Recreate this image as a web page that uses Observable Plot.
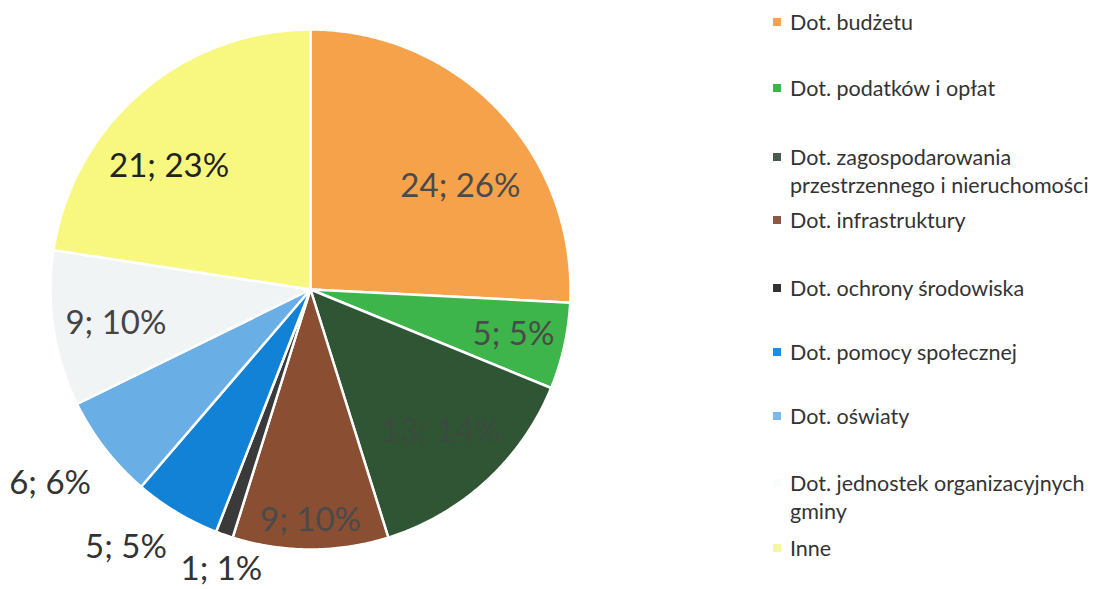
<!DOCTYPE html>
<html><head><meta charset="utf-8">
<script src="https://cdn.jsdelivr.net/npm/d3@7"></script>
<script src="https://cdn.jsdelivr.net/npm/@observablehq/plot@0.6"></script>
<style>
body{margin:0;background:#fff;font-family:Lato,"Open Sans",sans-serif;}
#wrap{position:relative;width:1100px;height:589px;overflow:hidden;}
#legend{position:absolute;left:0;top:0;width:1100px;height:589px;pointer-events:none;}
.item{position:absolute;left:790px;font-size:21.5px;line-height:28px;color:#333;white-space:nowrap;}
.sw{position:absolute;left:-17px;top:10px;width:8px;height:8px;}
</style></head><body><div id="wrap"><div id="legend"></div></div>
<script>
const categories = [
  "Dot. budżetu",
  "Dot. podatków i opłat",
  "Dot. zagospodarowania przestrzennego i nieruchomości",
  "Dot. infrastruktury",
  "Dot. ochrony środowiska",
  "Dot. pomocy społecznej",
  "Dot. oświaty",
  "Dot. jednostek organizacyjnych gminy",
  "Inne"
];
const legendLines = [
  ["Dot. budżetu"],
  ["Dot. podatków i opłat"],
  ["Dot. zagospodarowania", "przestrzennego i nieruchomości"],
  ["Dot. infrastruktury"],
  ["Dot. ochrony środowiska"],
  ["Dot. pomocy społecznej"],
  ["Dot. oświaty"],
  ["Dot. jednostek organizacyjnych", "gminy"],
  ["Inne"]
];
const values = [24, 5, 13, 9, 1, 5, 6, 9, 21];
const colors = ["#F5A24A", "#3DB54A", "#2F5535", "#8A4E33", "#3A3A3A", "#1282D6", "#6AAEE6", "#F1F4F4", "#F8F880"];

// style settings (not data)
const labelRadius = [0.70, 0.80, 0.74, 0.89, 1.13, 1.22, 1.25, 0.76, 0.72];
const labelAngleShift = [9, 0, 0, 0, -1.7, 4.6, 1, -1.3, -8.4];
const labelColor = ["#4a4a4a", "#4a4a4a", "#3c4a3e", "#4a4a4a", "#333", "#333", "#333", "#444", "#222"];
const legendTop = [8, 74, 143, 206, 274, 338, 402, 469, 534];
const swatchColors = ["#F5A24A", "#3DB54A", "#4A5A50", "#8A5A45", "#333333", "#1E8FE0", "#7AB8EC", "#FAFBFB", "#F2F7A8"];

const total = d3.sum(values);
const arcs = d3.pie().sort(null).value(d => d)(values);
const slices = arcs.map((a, i) => {
  const n = Math.max(4, Math.ceil((a.endAngle - a.startAngle) / (Math.PI / 360)));
  const ring = [[0, 0]];
  for (let k = 0; k <= n; k++) {
    const t = a.startAngle + (a.endAngle - a.startAngle) * k / n;
    ring.push([Math.sin(t), -Math.cos(t)]);
  }
  ring.push([0, 0]);
  const mid = (a.startAngle + a.endAngle) / 2 + labelAngleShift[i] * Math.PI / 180;
  return {
    type: "Feature",
    properties: {
      name: categories[i],
      value: values[i],
      label: `${values[i]}; ${Math.round(values[i] / total * 100)}%`,
      lx: Math.sin(mid) * labelRadius[i],
      ly: -Math.cos(mid) * labelRadius[i],
      lc: labelColor[i]
    },
    geometry: {type: "Polygon", coordinates: [ring]}
  };
});
const labels = slices.map(s => s.properties);

const chart = Plot.plot({
  width: 1100,
  height: 589,
  marginLeft: 50,
  marginRight: 530,
  marginTop: 29,
  marginBottom: 40,
  projection: {type: "identity", domain: {type: "MultiPoint", coordinates: [[-1, -1], [1, 1]]}, inset: 0, clip: false},
  color: {domain: categories, range: colors},
  style: {fontFamily: "Lato, 'Open Sans', sans-serif", background: "white", overflow: "visible"},
  marks: [
    Plot.geo(slices, {fill: d => d.properties.name, stroke: "white", strokeWidth: 2.5, strokeLinejoin: "round"}),
    Plot.text(labels, {x: "lx", y: "ly", text: "label", fill: d => d.lc, fontSize: 33, textAnchor: "middle", clip: false})
  ]
});
document.getElementById("wrap").prepend(chart);

const leg = document.getElementById("legend");
legendLines.forEach((lines, i) => {
  const div = document.createElement("div");
  div.className = "item";
  div.style.top = legendTop[i] + "px";
  div.innerHTML = `<span class="sw" style="background:${swatchColors[i]}"></span>` + lines.join("<br>");
  leg.appendChild(div);
});
</script>
</body></html>
